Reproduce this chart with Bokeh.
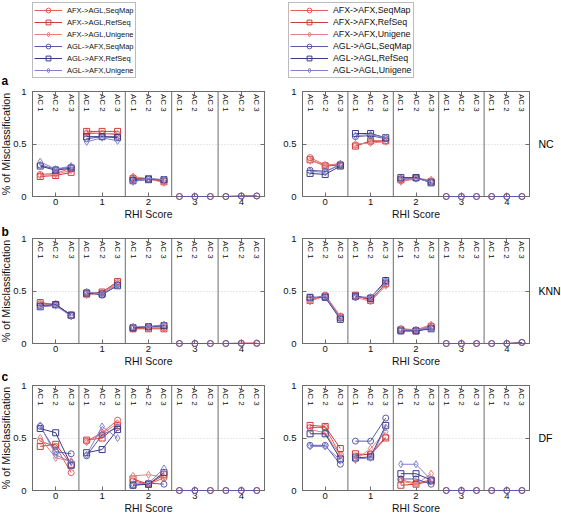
import math
from bokeh.plotting import figure
from bokeh.layouts import column, row
from bokeh.models import Range1d, LinearAxis, FixedTicker, Span, Legend, LegendItem
from bokeh.core.properties import value
from bokeh.embed import file_html
from bokeh.resources import INLINE

nan = float("nan")

# ---------------- data ----------------
rhi_scores = [0, 1, 2, 3, 4]
ac_names = ["AC 1", "AC 2", "AC 3"]
row_letters = ["a", "b", "c"]
classifiers = ["NC", "KNN", "DF"]
y_title = "% of Misclassification"
x_title = "RHI Score"
cross_labels = ["AFX->AGL,SeqMap", "AFX->AGL,RefSeq", "AFX->AGL,Unigene",
                "AGL->AFX,SeqMap", "AGL->AFX,RefSeq", "AGL->AFX,Unigene"]
within_labels = ["AFX->AFX,SeqMap", "AFX->AFX,RefSeq", "AFX->AFX,Unigene",
                 "AGL->AGL,SeqMap", "AGL->AGL,RefSeq", "AGL->AGL,Unigene"]

# each row: RHI 0 (AC1..3), RHI 1, RHI 2, RHI 3, RHI 4
nc_cross = [
    [0.21, 0.22, 0.27, 0.60, 0.60, 0.59, 0.18, 0.17, 0.15, 0, 0, 0, 0, 0.005, 0.005],
    [0.19, 0.20, 0.23, 0.62, 0.62, 0.62, 0.17, 0.17, 0.14, nan, nan, nan, nan, nan, nan],
    [0.20, 0.21, 0.25, 0.61, 0.60, 0.60, 0.19, 0.17, 0.13, nan, nan, nan, nan, nan, nan],
    [0.30, 0.26, 0.28, 0.55, 0.57, 0.57, 0.16, 0.17, 0.16, 0, 0, 0, 0, 0.005, 0.005],
    [0.29, 0.25, 0.27, 0.57, 0.57, 0.56, 0.15, 0.16, 0.16, nan, nan, nan, nan, nan, nan],
    [0.33, 0.26, 0.29, 0.52, 0.56, 0.53, 0.14, 0.17, 0.16, nan, nan, nan, nan, nan, nan],
]
nc_within = [
    [0.37, 0.30, 0.31, 0.49, 0.52, 0.53, 0.15, 0.17, 0.15, 0, 0, 0, 0, 0, 0],
    [0.35, 0.29, 0.30, 0.48, 0.53, 0.53, 0.16, 0.18, 0.14, nan, nan, nan, nan, nan, nan],
    [0.34, 0.30, 0.31, 0.50, 0.51, 0.52, 0.14, 0.17, 0.16, nan, nan, nan, nan, nan, nan],
    [0.25, 0.24, 0.30, 0.57, 0.58, 0.55, 0.17, 0.18, 0.14, 0, 0, 0, 0, 0, 0],
    [0.22, 0.21, 0.29, 0.60, 0.60, 0.56, 0.18, 0.18, 0.13, nan, nan, nan, nan, nan, nan],
    [0.24, 0.23, 0.31, 0.58, 0.59, 0.56, 0.17, 0.17, 0.14, nan, nan, nan, nan, nan, nan],
]
knn_cross = [
    [0.38, 0.37, 0.27, 0.48, 0.48, 0.58, 0.14, 0.15, 0.15, 0, 0, 0, 0, 0.005, 0.005],
    [0.39, 0.37, 0.27, 0.47, 0.49, 0.59, 0.14, 0.14, 0.14, nan, nan, nan, nan, nan, nan],
    [0.37, 0.38, 0.26, 0.46, 0.48, 0.57, 0.15, 0.15, 0.16, nan, nan, nan, nan, nan, nan],
    [0.36, 0.37, 0.27, 0.49, 0.46, 0.56, 0.15, 0.16, 0.17, 0, 0, 0, 0, 0, 0],
    [0.35, 0.37, 0.27, 0.48, 0.47, 0.55, 0.15, 0.16, 0.17, nan, nan, nan, nan, nan, nan],
    [0.35, 0.36, 0.26, 0.49, 0.47, 0.56, 0.16, 0.16, 0.18, nan, nan, nan, nan, nan, nan],
]
knn_within = [
    [0.42, 0.46, 0.26, 0.45, 0.42, 0.56, 0.14, 0.13, 0.17, 0, 0, 0, 0, 0, 0.01],
    [0.41, 0.45, 0.25, 0.46, 0.41, 0.57, 0.13, 0.12, 0.16, nan, nan, nan, nan, nan, nan],
    [0.40, 0.46, 0.26, 0.44, 0.40, 0.55, 0.14, 0.13, 0.18, nan, nan, nan, nan, nan, nan],
    [0.44, 0.44, 0.24, 0.44, 0.44, 0.59, 0.12, 0.12, 0.15, 0, 0, 0, 0, 0, 0.01],
    [0.44, 0.44, 0.23, 0.45, 0.43, 0.60, 0.12, 0.12, 0.14, nan, nan, nan, nan, nan, nan],
    [0.43, 0.45, 0.24, 0.44, 0.44, 0.58, 0.13, 0.13, 0.15, nan, nan, nan, nan, nan, nan],
]
df_cross = [
    [0.47, 0.42, 0.17, 0.47, 0.55, 0.67, 0.09, 0.06, 0.12, 0, 0, 0, 0, 0, 0],
    [0.42, 0.44, 0.25, 0.48, 0.50, 0.62, 0.11, 0.06, 0.15, nan, nan, nan, nan, nan, nan],
    [0.50, 0.31, 0.28, 0.46, 0.54, 0.64, 0.14, 0.15, 0.13, nan, nan, nan, nan, nan, nan],
    [0.61, 0.37, 0.35, 0.33, 0.53, 0.60, 0.05, 0.07, 0.06, 0, 0, 0, 0, 0, 0],
    [0.59, 0.55, 0.24, 0.36, 0.39, 0.58, 0.05, 0.06, 0.17, nan, nan, nan, nan, nan, nan],
    [0.62, 0.34, 0.27, 0.34, 0.61, 0.50, 0.06, 0.07, 0.21, nan, nan, nan, nan, nan, nan],
]
df_within = [
    [0.60, 0.60, 0.34, 0.33, 0.35, 0.51, 0.10, 0.07, 0.10, 0, 0, 0, 0, 0, 0],
    [0.62, 0.61, 0.40, 0.35, 0.34, 0.50, 0.05, 0.06, 0.09, nan, nan, nan, nan, nan, nan],
    [0.58, 0.55, 0.33, 0.29, 0.40, 0.56, 0.09, 0.06, 0.16, nan, nan, nan, nan, nan, nan],
    [0.43, 0.43, 0.25, 0.47, 0.47, 0.69, 0.11, 0.11, 0.06, 0, 0, 0, 0, 0, 0],
    [0.54, 0.54, 0.30, 0.31, 0.32, 0.62, 0.16, 0.16, 0.10, nan, nan, nan, nan, nan, nan],
    [0.42, 0.42, 0.29, 0.30, 0.31, 0.60, 0.25, 0.25, 0.10, nan, nan, nan, nan, nan, nan],
]

panels = [[nc_cross, nc_within], [knn_cross, knn_within], [df_cross, df_within]]

# ---------------- style ----------------
COLORS = ["#e45c5c", "#cc3c3c", "#ec8080", "#5a5aaa", "#3a3a88", "#8282cc"]
MARKERS = ["circle", "square", "diamond"] * 2
MSIZE = [6, 6, 7, 6, 6, 7]
AC_OFF = [-1 / 3, 0, 1 / 3]
GRAY = "#6c6c6c"
FONT = "Liberation Sans"
FRAME_H = 105.0

LEG_H = 86
ROW_H = [137, 146, 148]
ROW_TOP = [5, 15, 16]
ROW_BOT = [27, 26, 27]
LETTER_UP = [11, 7, 9]     # px above the frame top
COL_W = [280, 281]
COL_L = [32, 19]
COL_R = [16, 32]


def series_xy(vals):
    xs, ys = [], []
    for gi, g in enumerate(rhi_scores):
        for j in range(3):
            xs.append(g + AC_OFF[j])
            ys.append(vals[gi * 3 + j])
        xs.append(nan)
        ys.append(nan)
    return xs, ys


def blank_axis(ticks):
    return LinearAxis(ticker=FixedTicker(ticks=ticks),
                      major_label_overrides={t: "" for t in ticks},
                      major_label_text_font_size="0px", major_label_standoff=0,
                      major_tick_in=4, major_tick_out=0,
                      minor_tick_line_color=None, axis_line_color=GRAY,
                      major_tick_line_color=GRAY)


def make_legend_fig(c):
    # frame spans from the legend's top-left corner to the bottom-right of the figure
    p = figure(width=COL_W[c], height=LEG_H, x_range=Range1d(0, 1), y_range=Range1d(0, 1),
               output_backend="svg", toolbar_location=None, tools="",
               x_axis_location=None, y_axis_location=None,
               min_border_left=32 if c == 0 else 8, min_border_top=2,
               min_border_right=0, min_border_bottom=0)
    p.outline_line_color = None
    p.grid.visible = False
    labels = cross_labels if c == 0 else within_labels
    items = []
    for k in range(6):
        # swatch renderers: kept outside the visible range, only the legend shows them
        lr = p.line(x=[-3, -2], y=[-3, -2], line_color=COLORS[k], line_width=1)
        sr = p.scatter(x=[-3], y=[-3], marker=MARKERS[k], line_color=COLORS[k],
                       fill_color=None, line_width=1)
        items.append(LegendItem(label=labels[k], renderers=[lr, sr]))
    lg = Legend(items=items, location="top_left",
                border_line_color="#7a7a7a", border_line_width=1,
                background_fill_color="white", background_fill_alpha=1,
                label_text_font=FONT,
                label_text_font_size="7.5px" if c == 0 else "8.8px",
                label_text_color="#111111",
                glyph_width=28 if c == 0 else 38,
                glyph_height=12, label_height=12, spacing=0,
                padding=1, margin=0, label_standoff=5)
    p.add_layout(lg)
    if c == 0:
        # letter of the first row of panels
        fh = LEG_H - 2
        p.text(x=[0], y=[6 / fh], text=[row_letters[0]], x_offset=-31,
               text_font=value(FONT), text_font_size="12px",
               text_font_style="bold", text_baseline="middle", text_align="left",
               text_color="black", level="annotation")
    return p


def make_panel(r, c):
    p = figure(width=COL_W[c], height=ROW_H[r],
               x_range=Range1d(-0.5, 4.5), y_range=Range1d(0, 1),
               output_backend="svg", toolbar_location=None, tools="",
               min_border_left=COL_L[c], min_border_right=COL_R[c],
               min_border_top=ROW_TOP[r], min_border_bottom=ROW_BOT[r])
    p.outline_line_color = GRAY
    p.outline_line_width = 1
    p.background_fill_color = "white"
    p.border_fill_color = "white"

    xa = p.xaxis[0]
    ya = p.yaxis[0]
    xa.ticker = FixedTicker(ticks=rhi_scores)
    xa.major_label_overrides = {g: str(g) for g in rhi_scores}
    ya.ticker = FixedTicker(ticks=[0, 0.5, 1])
    ya.major_label_overrides = {0: "0", 0.5: "0.5", 1: "1"}
    for ax in (xa, ya):
        ax.major_tick_in = 4
        ax.major_tick_out = 0
        ax.minor_tick_line_color = None
        ax.axis_line_color = GRAY
        ax.major_tick_line_color = GRAY
        ax.major_label_text_font = FONT
        ax.major_label_text_font_size = "9.5px"
        ax.major_label_text_color = "#111111"
        ax.axis_label_text_font = FONT
        ax.axis_label_text_font_style = "normal"
        ax.axis_label_text_color = "#111111"
    xa.axis_label = x_title
    xa.axis_label_text_font_size = "10.4px"
    xa.major_label_standoff = 2
    xa.axis_label_standoff = 1
    ya.major_label_standoff = 6

    p.add_layout(blank_axis(rhi_scores), "above")
    p.add_layout(blank_axis([0, 0.5, 1]), "right")

    p.xgrid.visible = False
    p.ygrid.ticker = FixedTicker(ticks=[0.5])
    p.ygrid.grid_line_color = "#d2d2d2"
    p.ygrid.grid_line_dash = "1 2"

    for g in rhi_scores[:-1]:
        p.add_layout(Span(location=g + 0.5, dimension="height",
                          line_color=GRAY, line_width=1))

    # AC labels at top of each group
    tx, tt = [], []
    for g in rhi_scores:
        for j in range(3):
            tx.append(g + AC_OFF[j])
            tt.append(ac_names[j])
    p.text(x=tx, y=[1 - 2.5 / FRAME_H] * len(tx), text=tt, angle=-math.pi / 2,
           text_align="left", text_baseline="middle",
           text_font=value(FONT), text_font_size="8px", text_color="#111111")

    vals = panels[r][c]
    for k in range(6):
        xs, ys = series_xy(vals[k])
        p.line(xs, ys, line_color=COLORS[k], line_width=1, level="annotation")
        p.scatter(xs, ys, marker=MARKERS[k], size=MSIZE[k], line_color=COLORS[k],
                  fill_color=None, line_width=1, level="annotation")

    if c == 0:
        if r > 0:
            p.text(x=[-0.5], y=[1 + LETTER_UP[r] / FRAME_H], text=[row_letters[r]],
                   x_offset=-31, text_font=value(FONT), text_font_size="12px",
                   text_font_style="bold", text_baseline="middle", text_align="left",
                   text_color="black", level="annotation")
        p.text(x=[-0.5], y=[0.5], text=[y_title], x_offset=-27, angle=math.pi / 2,
               text_font=value(FONT), text_font_size="10.8px",
               text_baseline="middle", text_align="center",
               text_color="#111111", level="annotation")
    else:
        p.text(x=[4.5], y=[0.5], text=[classifiers[r]], x_offset=9,
               text_font=value(FONT), text_font_size="10.5px",
               text_baseline="middle", text_align="left",
               text_color="black", level="annotation")
    return p


rows = [row(make_legend_fig(0), make_legend_fig(1))]
for r in range(3):
    rows.append(row(make_panel(r, 0), make_panel(r, 1)))

layout = column(*rows)

open("out.html", "w").write(file_html(layout, INLINE))
